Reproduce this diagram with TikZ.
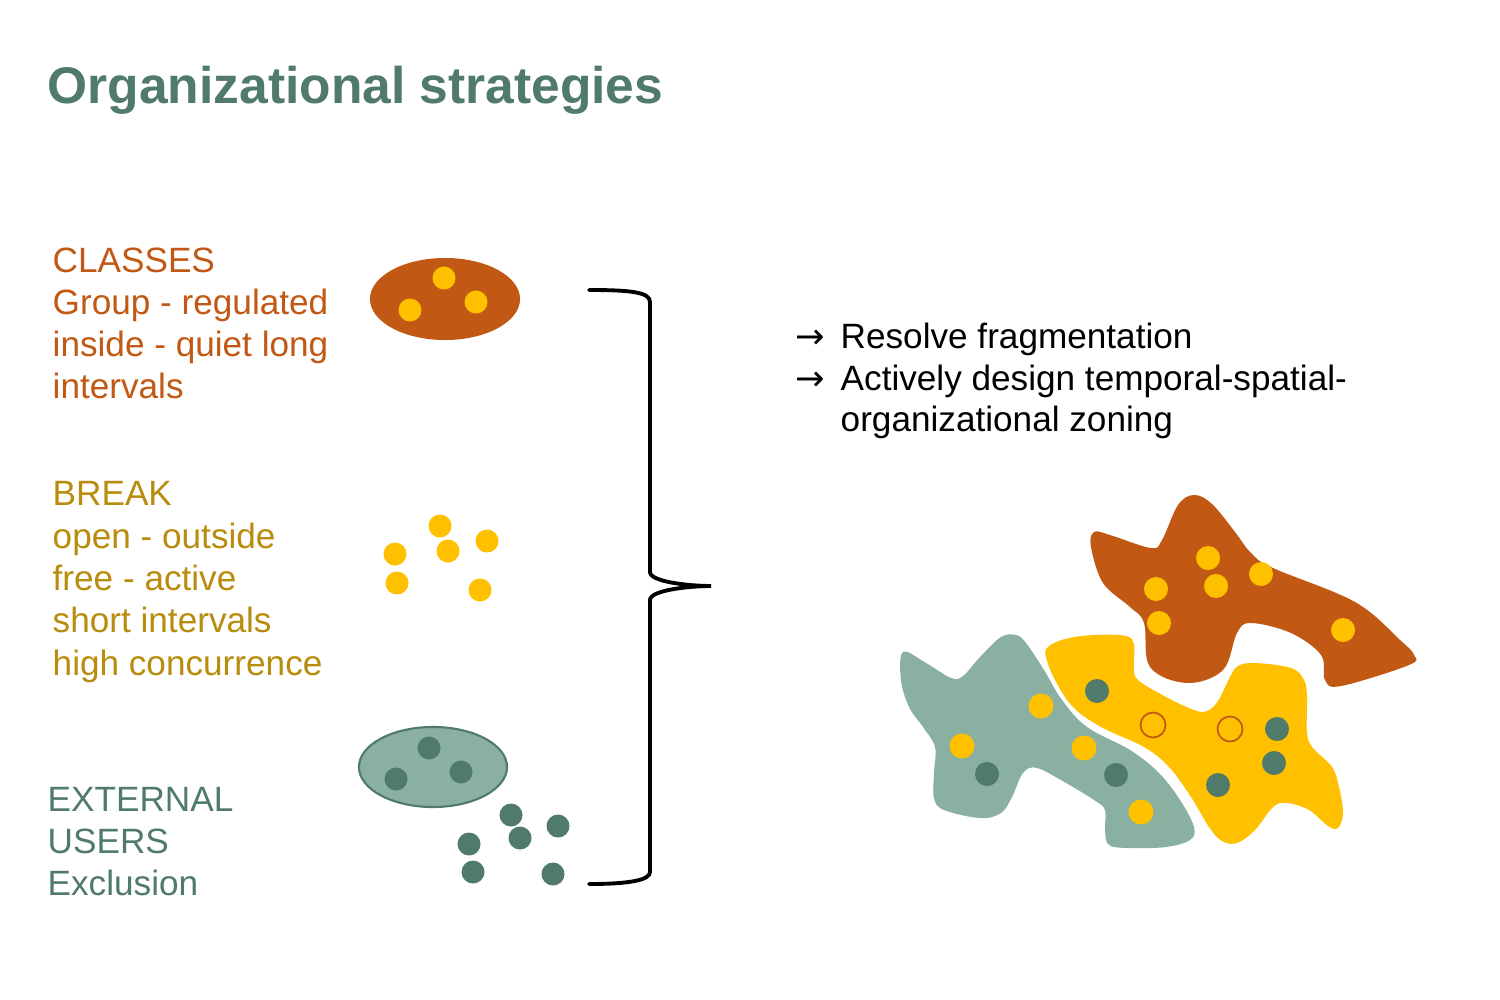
\documentclass[tikz,border=0pt]{standalone}
\usepackage{fontspec}
\setmainfont{Liberation Sans}
\newfontfamily\arrowfont{DejaVu Sans}
\definecolor{rust}{RGB}{193,89,20}
\definecolor{gold}{RGB}{255,192,0}
\definecolor{goldtext}{RGB}{184,140,12}
\definecolor{sage}{RGB}{138,176,162}
\definecolor{pine}{RGB}{80,122,106}
\begin{document}
\begin{tikzpicture}[x=0.01cm,y=-0.01cm,
  txt/.style={anchor=base west,inner sep=0pt,font=\fontsize{10}{12}\selectfont},
  arr/.style={anchor=base west,inner sep=0pt,font=\fontsize{10}{12}\arrowfont},
  ydot/.style={fill=gold},
  gdot/.style={fill=pine},
  odot/.style={draw=rust,line width=0.5pt}]
\useasboundingbox[fill=white] (0,0) rectangle (1500,1000);

% title
\node[anchor=base west,inner sep=0pt,text=pine,font=\fontsize{14.65}{17}\selectfont\bfseries] (title) at (47,103) {Organizational strategies};

% left texts
\node[txt,text=rust] (c1) at (52,272) {CLASSES};
\node[txt,text=rust] (c2) at (52,314) {Group - regulated};
\node[txt,text=rust] (c3) at (52,356) {inside - quiet long};
\node[txt,text=rust] (c4) at (52,398) {intervals};

\node[txt,text=goldtext] (b1) at (52,505) {BREAK};
\node[txt,text=goldtext] (b2) at (52,548) {open - outside};
\node[txt,text=goldtext] (b3) at (52,590) {free - active};
\node[txt,text=goldtext] (b4) at (52,632) {short intervals};
\node[txt,text=goldtext] (b5) at (52,675) {high concurrence};

\node[txt,text=pine] (e1) at (47,811) {EXTERNAL};
\node[txt,text=pine] (e2) at (47,853) {USERS};
\node[txt,text=pine] (e3) at (47,895) {Exclusion};

% right texts
\node[arr] (a1) at (795,348) {→};
\node[txt] (r1) at (840,348) {Resolve fragmentation};
\node[arr] (a2) at (795,390) {→};
\node[txt] (r2) at (840,390) {Actively design temporal-spatial-};
\node[txt] (r3) at (840,431) {organizational zoning};

% classes ellipse
\fill[rust] (445,299) ellipse [x radius=7.5mm, y radius=4.1mm];
\foreach \p in {(444,278),(410,310),(476,302)} \fill[ydot] \p circle (1.15mm);

% break dots
\foreach \p in {(440,526),(395,554),(448,551),(487,541),(397,583),(480,590)} \fill[ydot] \p circle (1.15mm);

% external ellipse
\filldraw[fill=sage,draw=pine,line width=0.6pt] (433,767) ellipse [x radius=7.4mm, y radius=4.0mm];
\foreach \p in {(429,748),(396,779),(461,772),(511,815),(558,826),(469,844),(520,838),(473,872),(553,874)} \fill[gdot] \p circle (1.15mm);

% brace
\draw[line width=1.1pt,line cap=round] (589,290) .. controls (630,290) and (650,292) .. (650,302) -- (650,572)
  .. controls (650,582) and (690,586) .. (711,586)
  .. controls (690,586) and (650,590) .. (650,600) -- (650,872)
  .. controls (650,880) and (630,884) .. (589,884);

% orange blob
\fill[rust] plot[smooth cycle, tension=0.6] coordinates {
 (1194,495) (1212,504) (1235,532) (1251,553) (1273,568) (1355,602) (1400,640) (1414,655) (1409,665)
 (1341,686) (1325,680) (1321,655) (1291,633) (1251,623) (1237,633) (1223,670) (1187,683)
 (1150,667) (1144,623) (1130,607) (1103,583) (1091,547) (1094,532) (1110,535)
 (1151,548) (1162,540) (1178,505)};
\foreach \p in {(1208,558),(1156,589),(1216,586),(1261,574),(1159,623),(1343,630)} \fill[ydot] \p circle (1.2mm);

% teal blob
\fill[sage] plot[smooth cycle, tension=0.6] coordinates {
 (903,652) (926,663) (951,678) (963,676) (980,657) (1001,637) (1016,635) (1026,643)
 (1044,670) (1062,700) (1087,727) (1130,750) (1159,773) (1180,800) (1194,827) (1190,840)
 (1166,847) (1130,848) (1109,845) (1105,830) (1105,810) (1094,800) (1066,783) (1037,768)
 (1023,773) (1012,797) (1001,813) (980,818) (944,810) (934,798) (934,773) (935,747)
 (923,727) (909,707) (901,680)};
\foreach \p in {(1041,706),(962,746),(1084,748),(1141,812)} \fill[ydot] \p circle (1.25mm);
\foreach \p in {(987,774),(1116,775)} \fill[gdot] \p circle (1.2mm);

% yellow blob
\fill[gold] plot[smooth cycle, tension=0.6] coordinates {
 (1048,647) (1065,639) (1094,635) (1126,636) (1134,645) (1134,667) (1138,680) (1166,697)
 (1194,710) (1207,711) (1218,701) (1230,677) (1238,666) (1255,663) (1291,668) (1304,680)
 (1307,697) (1307,733) (1313,748) (1332,767) (1339,787) (1343,813) (1338,828) (1328,826)
 (1309,810) (1287,803) (1273,807) (1255,830) (1237,843) (1222,841) (1209,827) (1191,797)
 (1169,767) (1144,747) (1101,727) (1073,707) (1055,680) (1046,657)};
\foreach \p in {(1097,691),(1277,729),(1274,763),(1218,785)} \fill[gdot] \p circle (1.2mm);
\foreach \p in {(1153,725),(1230,729)} \draw[odot] \p circle (1.25mm);
\end{tikzpicture}
\end{document}
